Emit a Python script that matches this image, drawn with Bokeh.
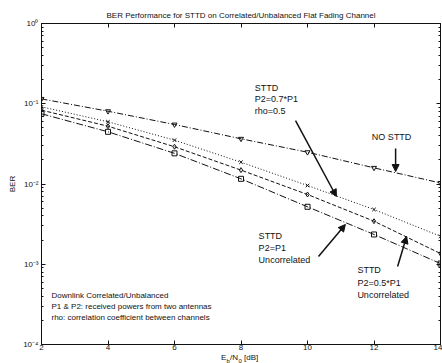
from bokeh.plotting import figure
from bokeh.layouts import column
from bokeh.models import (FixedTicker, LogAxis, LinearAxis, Label, Arrow, NormalHead, Range1d)
from bokeh.embed import file_html
from bokeh.resources import INLINE

# ---- data ----
ebn0_db = [2, 4, 6, 8, 10, 12, 14]
ber_no_sttd = [0.115, 0.0807, 0.0551, 0.0366, 0.0249, 0.0159, 0.0103]
ber_p07_rho05 = [0.0916, 0.0596, 0.0352, 0.0187, 0.00958, 0.00481, 0.00223]
ber_p05_uncorr = [0.0832, 0.0525, 0.0291, 0.0149, 0.00740, 0.00344, 0.00136]
ber_p1_uncorr = [0.0750, 0.0447, 0.0241, 0.0116, 0.00520, 0.00235, 0.00102]

x_ticks = [2, 4, 6, 8, 10, 12, 14]
y_ticks = [1e-4, 1e-3, 1e-2, 1e-1, 1]
y_tick_labels = ["10\u207b\u2074", "10\u207b\u00b3", "10\u207b\u00b2", "10\u207b\u00b9", "10\u2070"]

FONT = "Liberation Sans"
INK = "#111111"

p = figure(width=442, height=352, y_axis_type="log",
           x_range=Range1d(2, 14), y_range=Range1d(1e-4, 1),
           output_backend="svg", toolbar_location=None,
           min_border_left=41, min_border_right=2, min_border_top=23, min_border_bottom=8)
p.background_fill_color = "white"
p.border_fill_color = "white"
p.outline_line_color = INK
p.grid.visible = False

p.title.text = "BER Performance for STTD on Correlated/Unbalanced Flat Fading Channel"
p.title.align = "center"
p.title.text_font = FONT
p.title.text_font_size = "8px"
p.title.text_font_style = "normal"
p.title.text_color = INK
p.title.standoff = 8

minor_y = [m * 10.0 ** k for k in range(-4, 0) for m in range(2, 10)]
y_override = {t: l for t, l in zip(y_ticks, y_tick_labels)}

def style_axis(ax, labels=True):
    ax.axis_line_color = INK
    ax.major_tick_line_color = INK
    ax.minor_tick_line_color = INK
    ax.major_tick_in = 4
    ax.major_tick_out = 0
    ax.minor_tick_in = 2
    ax.minor_tick_out = 0
    ax.major_label_text_font = FONT
    ax.major_label_text_color = INK
    ax.major_label_text_font_size = "8px"
    ax.major_label_standoff = 3
    if not labels:
        ax.major_label_text_font_size = "1px"
        ax.major_label_text_alpha = 0
        ax.major_label_standoff = 0

# x axis
xa = p.xaxis[0]
xa.ticker = FixedTicker(ticks=x_ticks)
style_axis(xa)
xa.major_label_standoff = 0
xa.minor_tick_line_color = None

# y axis
ya = p.yaxis[0]
ya.ticker = FixedTicker(ticks=y_ticks, minor_ticks=minor_y)
style_axis(ya)
ya.major_label_overrides = y_override
ya.axis_label = "BER"
ya.axis_label_text_font = FONT
ya.axis_label_text_font_size = "8px"
ya.axis_label_text_font_style = "normal"
ya.axis_label_standoff = 3
ya.axis_label_text_color = INK

# mirrored axes (ticks on all sides)
ra = LogAxis(ticker=FixedTicker(ticks=y_ticks, minor_ticks=minor_y))
style_axis(ra, labels=False)
p.add_layout(ra, "right")
ta = LinearAxis(ticker=FixedTicker(ticks=x_ticks))
style_axis(ta, labels=False)
ta.minor_tick_line_color = None
p.add_layout(ta, "above")

# ---- series ----
series = [
    (ber_no_sttd, "inverted_triangle", "6 2 1 2"),
    (ber_p07_rho05, "x", "1 2"),
    (ber_p05_uncorr, "diamond", "4 2"),
    (ber_p1_uncorr, "square", "7 2 1 2"),
]
for ys, mk, dash in series:
    p.line(ebn0_db, ys, line_color=INK, line_width=1, line_dash=dash)
    p.scatter(ebn0_db, ys, marker=mk, size=5, line_color=INK, fill_color=None, line_width=1)

# ---- annotations ----
def txt(fig, x, y, s, dy=0, dx=0, align="left", size="9px", baseline="middle"):
    fig.add_layout(Label(x=x, y=y, text=s, y_offset=dy, x_offset=dx, text_font=FONT, text_font_size=size,
                         text_align=align, text_baseline=baseline, text_color=INK))

def arrow(x0, y0, x1, y1):
    p.add_layout(Arrow(x_start=x0, y_start=y0, x_end=x1, y_end=y1, line_color=INK, line_width=1.5,
                       end=NormalHead(size=7, fill_color=INK, line_color=INK)))

for i, s in enumerate(["STTD", "P2=0.7*P1", "rho=0.5"]):
    txt(p, 8.41, 0.159, s, dy=-11.5 * i)
arrow(9.64, 0.0618, 10.87, 0.00699)

txt(p, 12.53, 0.038, "NO STTD", align="center")
arrow(12.65, 0.0277, 12.65, 0.0143)

for i, s in enumerate(["STTD", "P2=P1", "Uncorrelated"]):
    txt(p, 8.53, 0.00228, s, dy=-12 * i)
arrow(10.33, 0.00125, 11.14, 0.00313)

for i, s in enumerate(["STTD", "P2=0.5*P1", "Uncorrelated"]):
    txt(p, 11.50, 0.000836, s, dy=-12.5 * i)
arrow(12.71, 0.000937, 12.98, 0.00222)

for i, s in enumerate(["Downlink Correlated/Unbalanced",
                       "P1 & P2: received powers from two antennas",
                       "rho: correlation coefficient between channels"]):
    txt(p, 2.30, 0.000408, s, dy=-11 * i, size="8px")

# ---- x-axis label strip: E_b/N_0 [dB] with subscripts ----
q = figure(width=442, height=11, x_range=p.x_range, y_range=Range1d(0, 1),
           output_backend="svg", toolbar_location=None,
           min_border_left=41, min_border_right=2, min_border_top=0, min_border_bottom=0)
q.axis.visible = False
q.grid.visible = False
q.outline_line_color = None
q.background_fill_color = "white"
q.border_fill_color = "white"
txt(q, 8, 0.62, "E", dx=-20, size="8px")
txt(q, 8, 0.34, "b", dx=-14.5, size="6px")
txt(q, 8, 0.62, "/N", dx=-11, size="8px")
txt(q, 8, 0.34, "0", dx=-2.5, size="6px")
txt(q, 8, 0.62, "[dB]", dx=3, size="8px")

layout = column(p, q, spacing=0)
open("out.html", "w").write(file_html(layout, INLINE))
